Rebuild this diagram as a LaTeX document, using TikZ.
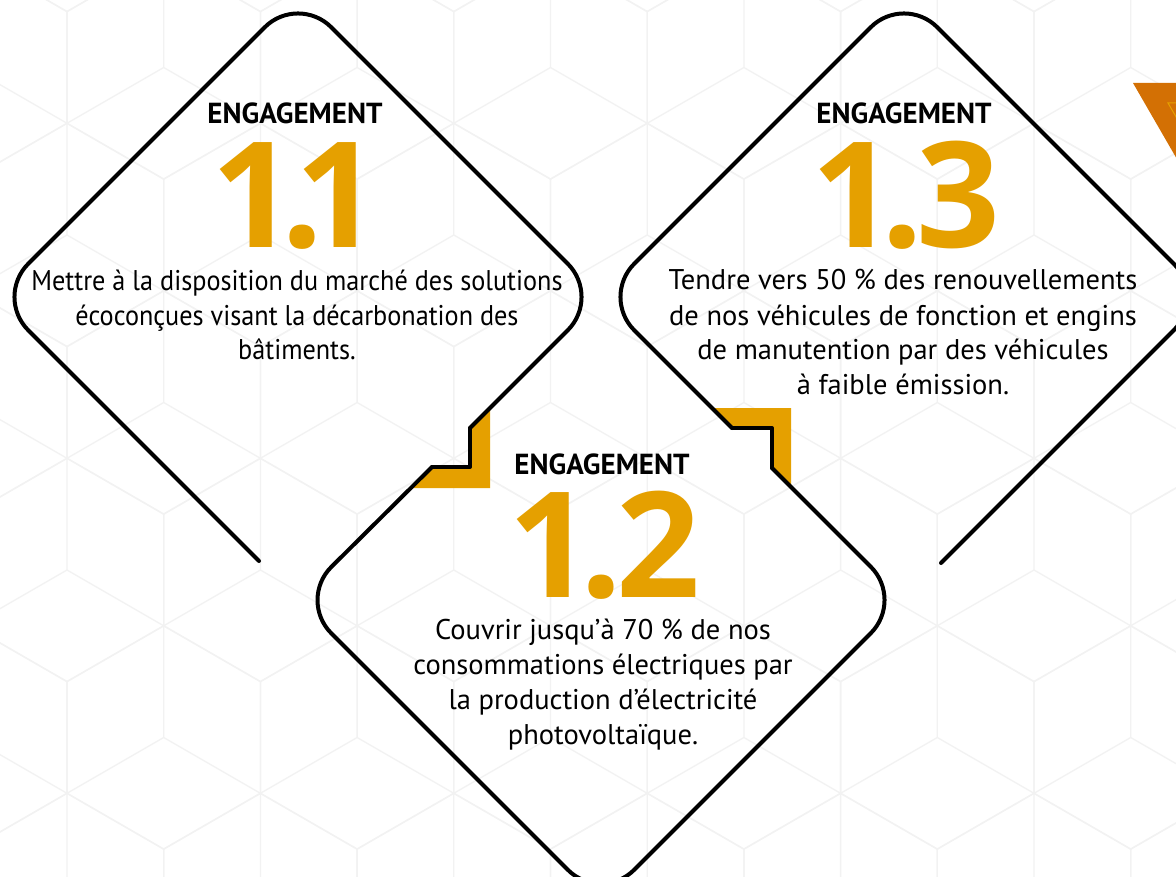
\documentclass[tikz,border=0pt]{standalone}
\usepackage{fontspec}
\setmainfont{PT Sans}
\newfontfamily\narrowfont{PT Sans}[FakeStretch=0.92]
\newfontfamily\digitfont{Open Sans}
\usetikzlibrary{positioning}
\definecolor{amber}{RGB}{229,160,0}
\definecolor{rust}{RGB}{211,112,4}
\definecolor{hexgrey}{RGB}{242,242,242}

\tikzset{
  outline/.style={line width=4pt, black, line cap=round, line join=round},
  hexline/.style={line width=1.3pt, hexgrey, line join=round},
  headline/.style={font=\bfseries\fontsize{29}{29}\selectfont, anchor=base, inner sep=0pt},
  bignum/.style={font=\digitfont\bfseries\fontsize{147}{147}\selectfont, text=amber, anchor=base,
    inner sep=0pt, text depth=0pt},
  blurb/.style={font=\fontsize{28.5}{35}\selectfont, align=center, anchor=base, inner sep=0pt},
}

\begin{document}
\begin{tikzpicture}[x=1pt, y=-1pt]
\useasboundingbox (0,0) rectangle (1176,877);
\clip (0,0) rectangle (1176,877);
\fill[white] (0,0) rectangle (1176,877);

% faint cube pattern in the background
\foreach \row in {-4,...,2}{
  \pgfmathsetmacro{\cy}{570+167.5*\row}
  \pgfmathsetmacro{\shift}{mod(\row+10,2)*96.7}
  \foreach \col in {-1,...,6}{
    \pgfmathsetmacro{\cx}{67+193.4*\col+\shift}
    \draw[hexline] (\cx,\cy) ++(0,-111.7) -- ++(96.7,55.8) -- ++(0,111.7)
      -- ++(-96.7,55.8) -- ++(-96.7,-55.8) -- ++(0,-111.7) -- cycle;
    \draw[hexline] (\cx,\cy) -- ++(0,-111.7) (\cx,\cy) -- ++(-96.7,55.8)
      (\cx,\cy) -- ++(96.7,55.8);
  }
}

% corner triangle, top right
\fill[rust] (1133,83) -- (1260,83) -- (1196.5,193) -- cycle;
\draw[amber, line width=1pt] (1168,103) -- (1240,103) -- (1204,165) -- cycle;

% orange brackets behind the notches
\fill[amber] (490,408) -- (490,488) -- (410,488) -- (432,467) -- (470,467) -- (470,428) -- cycle;
\fill[amber] (712,408) -- (791,408) -- (791,487) -- (772,468) -- (772,428) -- (732,428) -- cycle;

% corners of the three diamonds
\coordinate (l1) at (-5,297);
\coordinate (t1) at (298,-6);
\coordinate (r1) at (601,297);
\coordinate (b1) at (298,600);
\coordinate (b2) at (601,903);
\coordinate (b3) at (904,600);
\coordinate (t3) at (904,-6);
\coordinate (r3) at (1207,297);
\coordinate (s1) at (259,561);
\coordinate (e3) at (941,563);
% notches
\coordinate (n1) at (470,428);
\coordinate (n1c) at (470,467);
\coordinate (n1e) at (432,467);
\coordinate (n2) at (772,468);
\coordinate (n2c) at (772,428);
\coordinate (n2e) at (732,428);

\draw[outline, rounded corners=47pt] (s1) -- (l1) -- (t1) -- (r1) -- (n1);
\draw[outline] (n1) -- (n1c) -- (n1e);
\draw[outline, rounded corners=47pt] (n1e) -- (b1) -- (b2) -- (b3) -- (n2);
\draw[outline] (n2) -- (n2c) -- (n2e);
\draw[outline, rounded corners=47pt] (n2e) -- (r1) -- (t3) -- (r3) -- (e3);

% engagement 1.1
\node[headline] (head11) at (295,124) {ENGAGEMENT};
\node[bignum] (num11) at (295,248) {1\kern-14pt.\kern-28pt1};
\node[blurb, font=\narrowfont\fontsize{28.5}{35}\selectfont] (text11) at (297,360)
  {Mettre à la disposition du marché des solutions\\
  écoconçues visant la décarbonation des\\bâtiments.};

% engagement 1.3
\node[headline] (head13) at (904,124) {ENGAGEMENT};
\node[bignum] (num13) at (906,248) {1\kern-14pt.\kern-6pt3};
\node[blurb] (text13) at (903,395) {Tendre vers 50 \% des renouvellements\\
  de nos véhicules de fonction et engins\\de manutention par des véhicules\\
  à faible émission.};

% engagement 1.2
\node[headline] (head12) at (602,474) {ENGAGEMENT};
\node[bignum] (num12) at (604,597) {1\kern-12pt.\kern-6pt2};
\node[blurb] (text12) at (603,744) {Couvrir jusqu’à 70 \% de nos\\
  consommations électriques par\\la production d’électricité\\photovoltaïque.};
\end{tikzpicture}
\end{document}
